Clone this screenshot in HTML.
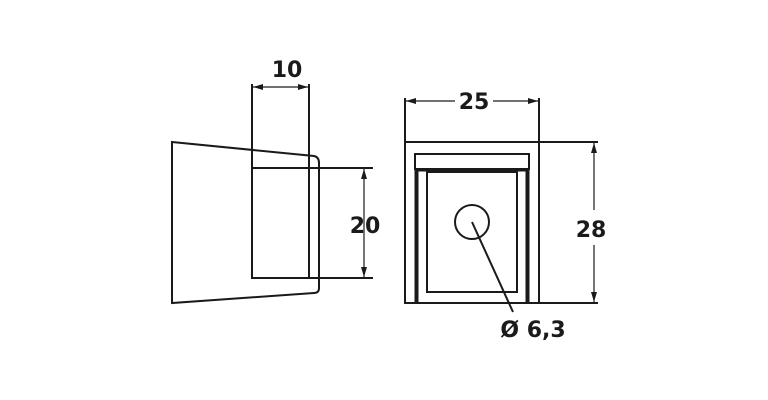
<!DOCTYPE html>
<html><head><style>
html,body{margin:0;padding:0;background:#fff;width:768px;height:400px;overflow:hidden}
text{font-family:"DejaVu Sans","Liberation Sans",sans-serif;font-weight:bold;fill:#1a1a1a}
</style></head><body>
<svg width="768" height="400" viewBox="0 0 768 400" xmlns="http://www.w3.org/2000/svg">
<defs>
<marker id="a" viewBox="0 0 10 6" refX="10" refY="3" markerWidth="10" markerHeight="6" orient="auto-start-reverse" markerUnits="userSpaceOnUse">
<path d="M0,0 L10,3 L0,6 Z" fill="#1a1a1a"/></marker>
</defs>
<g stroke="#1a1a1a" fill="none" stroke-width="2">
<path d="M172,142 L314,156 Q319,157 319,163 L319,288 Q319,293 314,293 L172,303 Z"/>
<rect x="252" y="168" width="57" height="110"/>
<line x1="252" y1="84" x2="252" y2="168"/>
<line x1="309" y1="84" x2="309" y2="168"/>
<line x1="309" y1="168" x2="373" y2="168"/>
<line x1="309" y1="278" x2="373" y2="278"/>
<line x1="253" y1="87" x2="308" y2="87" stroke-width="1.2" marker-start="url(#a)" marker-end="url(#a)"/>
<line x1="364" y1="169" x2="364" y2="277" stroke-width="1.2" marker-start="url(#a)" marker-end="url(#a)"/>
<rect x="405" y="142" width="134" height="161"/>
<line x1="405" y1="98" x2="405" y2="142"/>
<line x1="539" y1="98" x2="539" y2="142"/>
<line x1="539" y1="142" x2="598" y2="142"/>
<line x1="539" y1="303" x2="598" y2="303"/>
<line x1="406" y1="101" x2="455" y2="101" stroke-width="1.2" marker-start="url(#a)"/>
<line x1="493" y1="101" x2="538" y2="101" stroke-width="1.2" marker-end="url(#a)"/>
<line x1="594" y1="143" x2="594" y2="210" stroke-width="1.2" marker-start="url(#a)"/>
<line x1="594" y1="245" x2="594" y2="302" stroke-width="1.2" marker-end="url(#a)"/>
<rect x="415" y="154" width="114" height="15"/>
<line x1="416.5" y1="169" x2="416.5" y2="303" stroke-width="4"/>
<line x1="527.5" y1="169" x2="527.5" y2="303" stroke-width="4"/>
<line x1="416" y1="170" x2="528" y2="170" stroke-width="3"/>
<rect x="427" y="172" width="90" height="120"/>
<circle cx="472" cy="222" r="17"/>
<line x1="472" y1="222" x2="513" y2="312"/>
</g>
<text x="287" y="77" font-size="22" text-anchor="middle">10</text>
<text x="365" y="233" font-size="22" text-anchor="middle">20</text>
<text x="474" y="109" font-size="22" text-anchor="middle">25</text>
<text x="591" y="237" font-size="22" text-anchor="middle">28</text>
<text x="533" y="337" font-size="22" text-anchor="middle">Ø 6,3</text>
</svg>
</body></html>
